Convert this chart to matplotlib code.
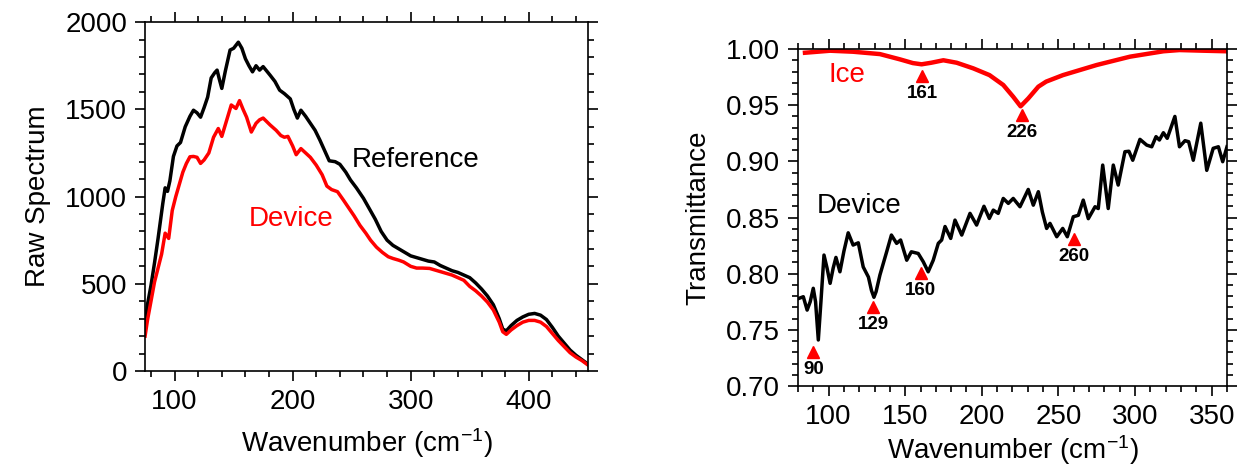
import matplotlib
matplotlib.use("Agg")
import matplotlib.pyplot as plt
from matplotlib.ticker import MultipleLocator, FormatStrFormatter

plt.rcParams['font.family'] = ['Liberation Sans', 'DejaVu Sans']
plt.rcParams['mathtext.default'] = 'regular'

# left panel: raw spectra
ref_wn = [75, 77, 80, 83, 86, 88, 90, 92, 94, 96, 99, 102, 105, 109, 113, 116, 119, 122, 125, 128,
          131, 134, 136, 138, 140, 143, 147, 150, 154, 157, 160, 163, 166, 169, 172, 175, 178, 181,
          185, 189, 193, 198, 201, 204, 207, 211, 215, 219, 223, 227, 231, 236, 240, 245, 249, 254,
          260, 265, 270, 275, 280, 285, 290, 295, 300, 305, 310, 315, 320, 325, 330, 335, 340, 345,
          350, 355, 360, 365, 370, 375, 378, 381, 385, 390, 395, 400, 405, 410, 415, 420, 425, 430,
          435, 440, 445, 450]
ref_val = [270, 380, 490, 620, 760, 860, 960, 1050, 1030, 1090, 1230, 1290, 1310, 1400, 1460, 1495,
           1480, 1455, 1510, 1570, 1680, 1710, 1725, 1670, 1620, 1720, 1840, 1850, 1885, 1850, 1790,
           1750, 1715, 1750, 1725, 1745, 1720, 1695, 1660, 1610, 1590, 1560, 1500, 1450, 1495, 1460,
           1420, 1380, 1325, 1265, 1205, 1200, 1185, 1140, 1095, 1050, 990, 930, 870, 800, 750, 720,
           700, 680, 660, 650, 640, 630, 625, 605, 590, 575, 565, 550, 535, 505, 470, 430, 380, 300,
           240, 230, 260, 290, 310, 325, 330, 320, 295, 250, 200, 160, 120, 90, 65, 40]

dev_wn = [75, 77, 80, 83, 86, 89, 92, 95, 98, 101, 104, 107, 110, 113, 116, 119, 122, 125, 129, 133,
          137, 140, 144, 148, 152, 155, 158, 161, 165, 169, 172, 175, 178, 181, 186, 190, 193, 196,
          200, 203, 207, 211, 215, 220, 225, 229, 233, 238, 243, 247, 252, 257, 262, 266, 271, 276,
          281, 285, 290, 294, 300, 305, 310, 316, 320, 325, 330, 335, 340, 345, 350, 355, 360, 365,
          370, 375, 378, 381, 385, 390, 395, 400, 405, 410, 415, 420, 425, 430, 435, 440, 445, 450]
dev_val = [200, 290, 400, 510, 590, 670, 790, 760, 920, 1000, 1070, 1140, 1190, 1228, 1230, 1225,
           1190, 1210, 1250, 1340, 1390, 1345, 1435, 1525, 1505, 1550, 1500, 1455, 1370, 1420, 1440,
           1450, 1430, 1410, 1380, 1350, 1340, 1345, 1290, 1240, 1275, 1250, 1225, 1180, 1125, 1060,
           1040, 1028, 980, 940, 890, 835, 790, 750, 710, 680, 655, 645, 635, 625, 600, 590, 590, 588,
           580, 570, 560, 550, 535, 520, 485, 460, 430, 395, 350, 280, 225, 210, 235, 260, 280, 290,
           290, 280, 255, 215, 175, 140, 105, 80, 60, 35]

# right panel: transmittance
ice_wn = [84.6, 101, 116, 133.5, 146.6, 155, 160.7, 167, 174.9, 183.6, 194.4, 205, 214, 220.5, 225.3,
          230.3, 236.9, 242, 253, 275, 296.7, 318.5, 329, 345, 360]
ice_t = [0.9967, 0.9985, 0.9976, 0.9955, 0.9908, 0.9875, 0.9864, 0.9878, 0.990, 0.9878, 0.9828,
         0.9768, 0.968, 0.9575, 0.949, 0.956, 0.9665, 0.971, 0.9768, 0.9858, 0.9932, 0.998, 0.9991,
         0.9985, 0.998]

tr_wn = [80.6, 83.5, 86, 88, 90, 91.5, 93.3, 95, 97, 99, 101, 103, 104.8, 107.4, 110, 112.8, 116,
         119.4, 122.6, 126, 128, 129.6, 131, 133.5, 137.9, 141, 144.4, 147, 151, 154, 158.5, 161.8,
         165, 168.3, 171.6, 173.8, 176, 179.7, 182.5, 186.9, 192.3, 196.6, 201.4, 204.9, 207.5,
         210.7, 214, 217.3, 220.5, 224.9, 230.3, 233.6, 236.9, 239.5, 242.3, 244.5, 248.9, 252.8,
         255.8, 259.7, 263, 266.2, 269.5, 273.9, 276, 278.9, 282.5, 285.8, 289, 293.4, 296, 298.5,
         303.2, 307.6, 310.9, 313.7, 315.9, 318.5, 321, 326, 329, 332.6, 335, 338, 342.9, 346.8, 351,
         354.4, 357.2, 360]
tr_t = [0.778, 0.7795, 0.7676, 0.775, 0.787, 0.775, 0.741, 0.775, 0.8166, 0.805, 0.7914, 0.805,
        0.8145, 0.8017, 0.820, 0.8364, 0.8255, 0.8275, 0.806, 0.797, 0.785, 0.779, 0.784, 0.7988,
        0.8195, 0.8344, 0.827, 0.830, 0.812, 0.8195, 0.818, 0.8106, 0.8017, 0.812, 0.827, 0.830,
        0.842, 0.8314, 0.8477, 0.8344, 0.8537, 0.8433, 0.860, 0.8492, 0.8566, 0.8537, 0.867, 0.8626,
        0.867, 0.8596, 0.875, 0.861, 0.873, 0.855, 0.8403, 0.8448, 0.8329, 0.8403, 0.8329, 0.8507,
        0.852, 0.8655, 0.849, 0.8596, 0.858, 0.8967, 0.858, 0.8967, 0.8789, 0.9086, 0.909, 0.901,
        0.9196, 0.9145, 0.913, 0.922, 0.919, 0.9255, 0.9205, 0.940, 0.913, 0.9184, 0.9175, 0.901,
        0.934, 0.892, 0.9116, 0.913, 0.8997, 0.913]

# marked peaks: (wavenumber, marker height, label)
peak_wn = [161, 226, 90, 129, 160, 260]
peak_t = [0.976, 0.941, 0.7305, 0.7705, 0.801, 0.831]
peak_lbl = ['161', '226', '90', '129', '160', '260']

fig = plt.figure(figsize=(12.4, 4.67), dpi=100)
ax1 = fig.add_axes([0.117, 0.2056, 0.357, 0.747])
ax2 = fig.add_axes([0.6435, 0.1734, 0.346, 0.7216])

for ax in (ax1, ax2):
    for s in ax.spines.values():
        s.set_linewidth(1.2)
    ax.tick_params(which='both', direction='out', top=True, right=True, width=1.2,
                   labelsize=20, pad=6)
    ax.tick_params(which='major', length=7)
    ax.tick_params(which='minor', length=4)

ax1.plot(ref_wn, ref_val, color='black', lw=2.5)
ax1.plot(dev_wn, dev_val, color='red', lw=2.5)
ax1.set_xlim(75, 450)
ax1.set_ylim(0, 2000)
ax1.xaxis.set_major_locator(MultipleLocator(100))
ax1.xaxis.set_minor_locator(MultipleLocator(20))
ax1.yaxis.set_major_locator(MultipleLocator(500))
ax1.yaxis.set_minor_locator(MultipleLocator(100))
ax1.set_xlabel('Wavenumber (cm$^{-1}$)', fontsize=20, labelpad=8)
ax1.set_ylabel('Raw Spectrum', fontsize=20, labelpad=10)
ax1.text(250, 1209, 'Reference', fontsize=20, color='black', va='center', ha='left')
ax1.text(163, 871, 'Device', fontsize=20, color='red', va='center', ha='left')

ax2.plot(ice_wn, ice_t, color='red', lw=3.2)
ax2.plot(tr_wn, tr_t, color='black', lw=2.5)
ax2.plot(peak_wn, peak_t, linestyle='none', marker='^', color='red', markersize=9)
for w, t, s in zip(peak_wn, peak_t, peak_lbl):
    ax2.text(w, t - 0.008, s, fontsize=13.5, fontweight='bold', ha='center', va='top')
ax2.set_xlim(80, 360)
ax2.set_ylim(0.70, 1.00)
ax2.xaxis.set_major_locator(MultipleLocator(50))
ax2.xaxis.set_minor_locator(MultipleLocator(10))
ax2.yaxis.set_major_locator(MultipleLocator(0.05))
ax2.yaxis.set_minor_locator(MultipleLocator(0.01))
ax2.yaxis.set_major_formatter(FormatStrFormatter('%.2f'))
ax2.set_xlabel('Wavenumber (cm$^{-1}$)', fontsize=20, labelpad=2)
ax2.set_ylabel('Transmittance', fontsize=20, labelpad=10)
ax2.text(100, 0.977, 'Ice', fontsize=20, color='red', va='center', ha='left')
ax2.text(92.4, 0.860, 'Device', fontsize=20, color='black', va='center', ha='left')

fig.savefig('out.png', dpi=100)
